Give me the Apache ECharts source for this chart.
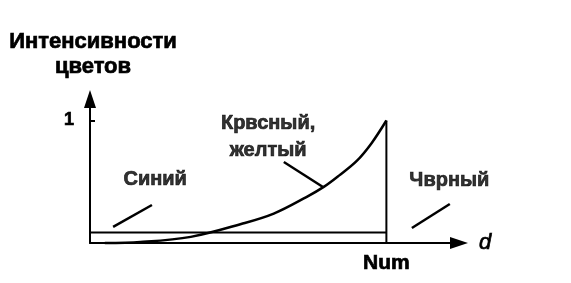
<!DOCTYPE html>
<html>
<head>
<meta charset="utf-8">
<script src="https://cdn.jsdelivr.net/npm/echarts@6/dist/echarts.min.js"></script>
<style>
html,body{margin:0;padding:0;background:#fff;}
#chart{width:571px;height:283px;}
</style>
</head>
<body>
<div id="chart"></div>
<script>
// ---- data ----
const yAxisTitle = 'Интенсивности\nцветов';
const xAxisTitle = 'd';
const xTickLabel = 'Num';
const yTickLabel = '1';
const xMark = 1;      // Num position
const yMark = 1;      // intensity 1
// Red/Yellow intensity curve
const curveX = [0.05, 0.17, 0.34, 0.51, 0.62, 0.73, 0.79, 0.84, 0.90, 0.95, 1.0];
const curveY = [0.0, 0.008, 0.05, 0.155, 0.24, 0.375, 0.46, 0.55, 0.67, 0.815, 1.0];
// Blue level
const blueX = [0, 1];
const blueY = [0.086, 0.086];
// Drop at Num
const dropX = [1, 1];
const dropY = [0, 1];
// Black (zero beyond Num)
const blackX = [1, 1.245];
const blackY = [0, 0];
// Annotation texts (data coordinates)
const noteNames = ['Синий', 'Крвсный,\nжелтый', 'Чврный'];
const noteX = [0.22, 0.601, 1.2125];
const noteY = [0.518, 0.867, 0.510];
// Leader lines [x1,y1,x2,y2]
const leaderX1 = [0.078, 0.654, 1.086];
const leaderY1 = [0.131, 0.661, 0.122];
const leaderX2 = [0.209, 0.786, 1.214];
const leaderY2 = [0.310, 0.457, 0.318];
const xMax = 1.245;
const yMax = 1.1755;

// ---- chart ----
const FONT = '"Liberation Sans", Arial, sans-serif';
const chart = echarts.init(document.getElementById('chart'), null, {renderer: 'canvas'});
const zip = (a, b) => a.map((v, i) => [v, b[i]]);
const heavy = {textBorderColor: '#000', textBorderWidth: 0.7};
const lineBase = (data, w) => ({
  type: 'line', data: data, showSymbol: false, symbol: 'none', silent: true,
  lineStyle: {color: '#000', width: w}, clip: false, z: 3
});
const series = [
  Object.assign(lineBase(zip(curveX, curveY), 2.5), {name: 'curve', smooth: 0.35}),
  Object.assign(lineBase(zip(blueX, blueY), 2), {name: 'blue'}),
  Object.assign(lineBase(zip(dropX, dropY), 2), {name: 'drop'}),
  Object.assign(lineBase(zip(blackX, blackY), 2), {name: 'black'})
];
leaderX1.forEach((x, i) => {
  series.push(lineBase([[x, leaderY1[i]], [leaderX2[i], leaderY2[i]]], 2.5));
});
series.push({
  type: 'scatter', symbolSize: 0, clip: false, silent: true,
  data: noteNames.map((n, i) => ({name: n, value: [noteX[i], noteY[i]]})),
  label: Object.assign({
    show: true, position: 'inside', formatter: p => p.name,
    color: '#000', fontFamily: FONT, fontWeight: 'bold', fontSize: 20,
    lineHeight: 27, align: 'center', verticalAlign: 'middle'
  }, heavy)
});

chart.setOption({
  animation: false,
  backgroundColor: '#fff',
  grid: {left: 90, right: 112, top: 99, bottom: 40, containLabel: false, outerBoundsMode: 'none'},
  xAxis: {
    type: 'value', min: 0, max: xMax,
    name: xAxisTitle, nameLocation: 'end', nameGap: 20,
    nameTextStyle: Object.assign({color: '#000', fontFamily: FONT, fontStyle: 'italic', fontSize: 22}, heavy),
    axisLine: {show: true, symbol: ['none', 'triangle'], symbolSize: [12, 18],
      lineStyle: {color: '#000', width: 2}},
    axisTick: {show: false},
    splitLine: {show: false},
    axisLabel: Object.assign({show: true, customValues: [xMark], formatter: v => (v === xMark ? xTickLabel : ''),
      color: '#000', fontFamily: FONT, fontWeight: 'bold', fontSize: 21, margin: 10}, heavy)
  },
  yAxis: {
    type: 'value', min: 0, max: yMax,
    name: yAxisTitle, nameLocation: 'end', nameGap: 20,
    nameTextStyle: Object.assign({color: '#000', fontFamily: FONT, fontWeight: 'bold', fontSize: 22,
      lineHeight: 25, align: 'center', padding: [0, 0, 0, 6]}, heavy),
    axisLine: {show: true, symbol: ['none', 'triangle'], symbolSize: [12, 18],
      lineStyle: {color: '#000', width: 2}},
    axisTick: {show: true, inside: true, length: 5, customValues: [yMark],
      lineStyle: {color: '#000', width: 2}},
    splitLine: {show: false},
    axisLabel: Object.assign({show: true, customValues: [yMark], formatter: v => (v === yMark ? yTickLabel : ''),
      color: '#000', fontFamily: FONT, fontWeight: 'bold', fontSize: 18, margin: 16}, heavy)
  },
  series: series
});
</script>
</body>
</html>
